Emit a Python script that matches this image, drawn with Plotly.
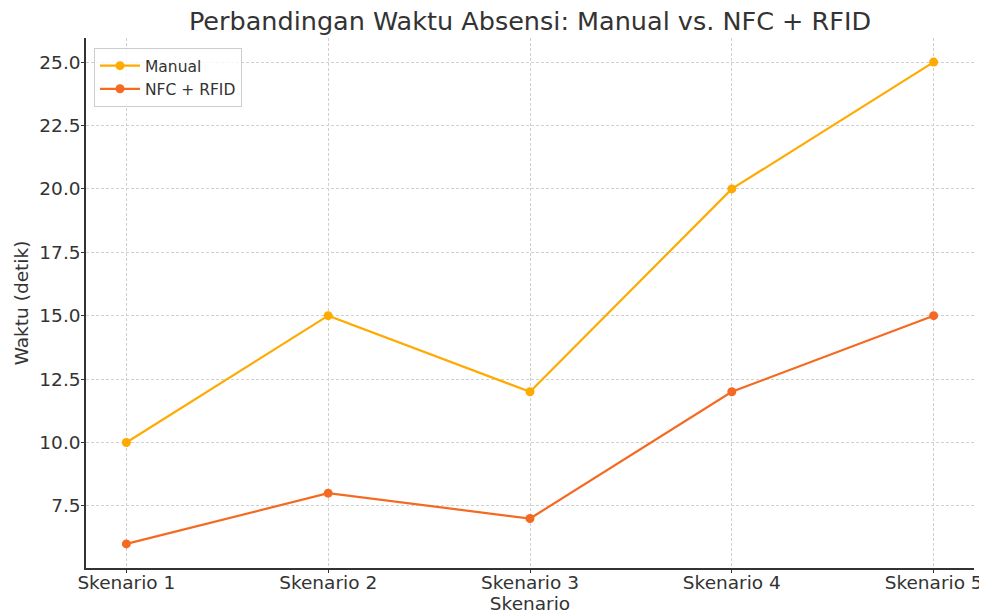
import plotly.graph_objects as go

categories = ["Skenario 1", "Skenario 2", "Skenario 3", "Skenario 4", "Skenario 5"]
manual = [10, 15, 12, 20, 25]
nfc_rfid = [6, 8, 7, 12, 15]
y_ticks = [7.5, 10.0, 12.5, 15.0, 17.5, 20.0, 22.5, 25.0]
y_tick_labels = ["7.5", "10.0", "12.5", "15.0", "17.5", "20.0", "22.5", "25.0"]

FONT = "DejaVu Sans, sans-serif"
TXT = "#333333"

fig = go.Figure()
fig.add_trace(go.Scatter(x=categories, y=manual, mode="lines+markers", name="Manual",
                         line=dict(color="#FFAA00", width=2.2), marker=dict(size=9, color="#FFAA00")))
fig.add_trace(go.Scatter(x=categories, y=nfc_rfid, mode="lines+markers", name="NFC + RFID",
                         line=dict(color="#F56A22", width=2.2), marker=dict(size=9, color="#F56A22")))

# page body adds an 8px offset, so the figure is 979x608
fig.update_layout(
    width=979, height=608,
    margin=dict(l=78, r=13, t=30, b=48),
    paper_bgcolor="white", plot_bgcolor="white",
    font=dict(family=FONT, color=TXT, size=18.5),
    title=dict(text="Perbandingan Waktu Absensi: Manual vs. NFC + RFID", xref="paper", x=0.5,
               xanchor="center", y=0.978, yanchor="middle",
               font=dict(size=25.5, color=TXT, family=FONT)),
    legend=dict(x=0.009, y=0.981, xanchor="left", yanchor="top", bgcolor="rgba(255,255,255,0.8)",
                bordercolor="#CCCCCC", borderwidth=1, font=dict(size=15.5, color=TXT),
                itemwidth=40),
    showlegend=True,
)
fig.update_xaxes(
    type="category", range=[-0.2, 4.2], showline=True, linecolor="#333333", linewidth=1.5,
    ticks="outside", ticklen=3, tickcolor="#333333", showgrid=True, gridcolor="#D0D0D0",
    griddash="3px,2px", gridwidth=1, zeroline=False, tickfont=dict(size=18.5, color=TXT),
    automargin=False, ticklabelstandoff=-6,
    title=dict(text="Skenario", font=dict(size=18.5, color=TXT), standoff=5),
)
fig.update_yaxes(
    range=[5.05, 25.95], tickvals=y_ticks, ticktext=y_tick_labels, showline=True,
    linecolor="#333333", linewidth=1.5, ticks="outside", ticklen=3, tickcolor="#333333",
    showgrid=True, gridcolor="#D0D0D0", griddash="3px,2px", gridwidth=1, zeroline=False,
    tickfont=dict(size=18.5, color=TXT), automargin=False, ticklabelstandoff=-3,
    title=dict(text="Waktu (detik)", font=dict(size=18.5, color=TXT), standoff=6),
)
fig.write_html("out.html")
